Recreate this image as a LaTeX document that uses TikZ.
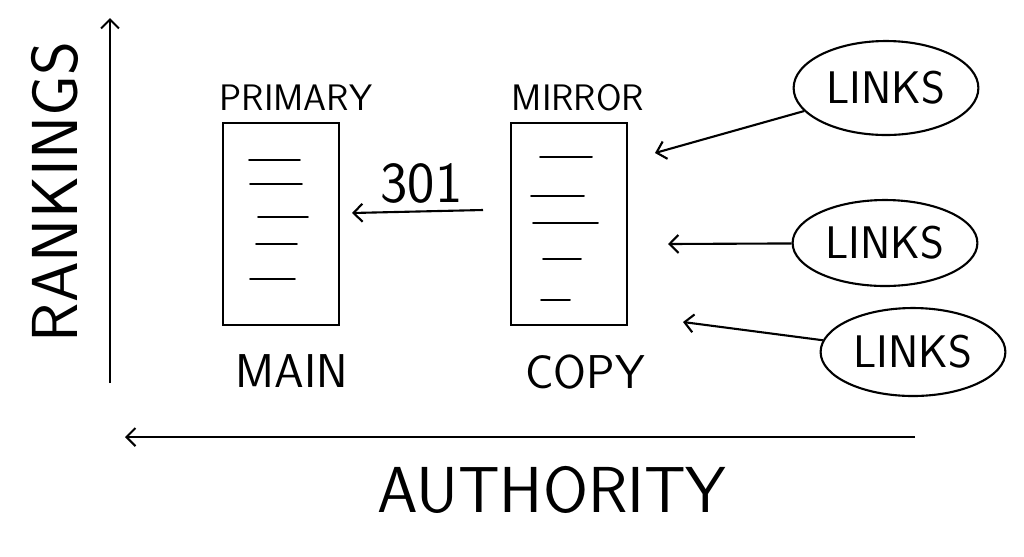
\documentclass[tikz,border=0pt]{standalone}
\usepackage{tikz}
\usetikzlibrary{shapes, shapes.geometric, arrows.meta, positioning, calc}

\begin{document}
\begin{tikzpicture}[
        x=0.02cm, y=-0.02cm,
        % --- Style Definitions ---
        page_style/.style={rectangle, draw=black, line width=1.3pt, minimum width=2.32cm, minimum height=4.04cm},
        links_style/.style={ellipse, draw=black, line width=1.2pt, font=\sffamily\fontsize{26}{28}\selectfont},
        tag/.style={font=\sffamily\fontsize{21}{24}\selectfont},
        big_tag/.style={font=\sffamily\fontsize{27}{30}\selectfont},
        code_tag/.style={font=\sffamily\fontsize{33}{36}\selectfont},
        axis_label/.style={font=\sffamily\fontsize{37}{40}\selectfont},
        text_line/.style={line width=1.1pt, line cap=round},
        arrow/.style={line width=1.2pt, -{Straight Barb[length=1.8mm, width=3.6mm]}}
    ]

        % --- Canvas ---
        \useasboundingbox (0,0) rectangle (1024,556);

        %################################################################
        %### Axes #######################################################
        %################################################################
        \coordinate (rank_base) at (110,383);
        \coordinate (rank_top)  at (110,18);
        \coordinate (auth_base) at (915,437);
        \coordinate (auth_top)  at (125,437);

        \draw[arrow] (rank_base) -- (rank_top);
        \draw[arrow] (auth_base) -- (auth_top);

        \node[axis_label, rotate=90] (rankings) at (55,192) {RANKINGS};
        \node[axis_label] (authority) at (552,490) {AUTHORITY};

        %################################################################
        %### Pages ######################################################
        %################################################################
        \node[page_style] (primary) at (281,224) {};
        \node[page_style] (mirror)  at (569,224) {};

        \node[tag, above=0.1cm of primary, xshift=0.3cm] (primary_lbl) {PRIMARY};
        \node[tag, above=0.1cm of mirror, xshift=0.18cm] (mirror_lbl) {MIRROR};
        \node[big_tag, below=0.45cm of primary, xshift=0.22cm] (main_lbl) {MAIN};
        \node[big_tag, below=0.45cm of mirror, xshift=0.32cm] (copy_lbl) {COPY};

        % --- Text lines on the pages ---
        \foreach \ya/\xa/\xb in {160/249/300, 184/250/302, 217/258/308, 244/256/297, 279/250/295}
            \draw[text_line] (\xa,\ya) -- (\xb,\ya);
        \foreach \ya/\xa/\xb in {157/540/592, 196/531/584, 223/533/598, 259/543/581, 300/541/570}
            \draw[text_line] (\xa,\ya) -- (\xb,\ya);

        % --- Redirect ---
        \coordinate (redirect_from) at (483,210);
        \coordinate (redirect_to)   at (352,213);
        \draw[arrow] (redirect_from) -- node[above, code_tag, xshift=0.08cm, inner sep=4pt] {301} (redirect_to);

        %################################################################
        %### Incoming links #############################################
        %################################################################
        \node[links_style, minimum width=3.44cm, minimum height=1.88cm] (links_a) at (886,88)  {LINKS};
        \node[links_style, minimum width=3.4cm,  minimum height=1.72cm] (links_b) at (885,243) {LINKS};
        \node[links_style, minimum width=3.32cm, minimum height=1.76cm] (links_c) at (913,352) {LINKS};

        \coordinate (hit_a) at (655,153);
        \coordinate (hit_b) at (668,244);
        \coordinate (hit_c) at (683,322);

        \draw[arrow] (links_a) -- (hit_a);
        \draw[arrow] (links_b) -- (hit_b);
        \draw[arrow] (links_c) -- (hit_c);

    \end{tikzpicture}
\end{document}
